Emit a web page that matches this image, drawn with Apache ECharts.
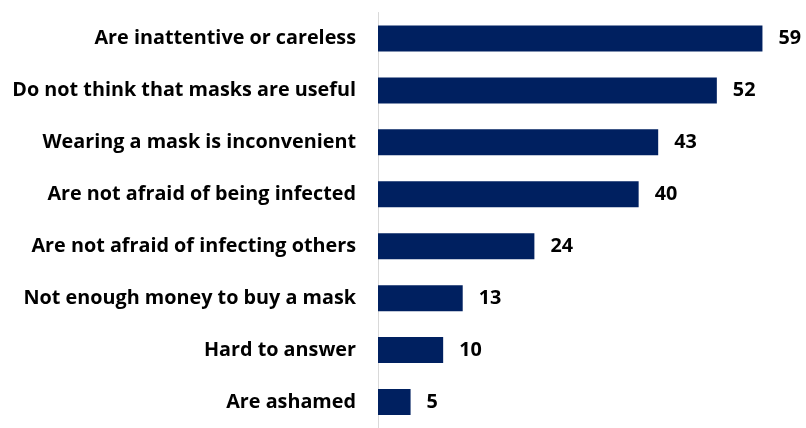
<!DOCTYPE html>
<html><head><meta charset="utf-8">
<script src="https://cdn.jsdelivr.net/npm/echarts@6/dist/echarts.min.js"></script>
<style>html,body{margin:0;padding:0;background:#fff}#c{width:806px;height:428px}</style>
</head><body><div id="c"></div>
<script>
var categories = ["Are inattentive or careless","Do not think that masks are useful","Wearing a mask is inconvenient","Are not afraid of being infected","Are not afraid of infecting others","Not enough money to buy a mask","Hard to answer","Are ashamed"];
var values = [59,52,43,40,24,13,10,5];
var chart = echarts.init(document.getElementById('c'));
var font = '"Open Sans", sans-serif';
chart.setOption({
  animation:false,
  grid:{left:378,top:12.5,width:404,height:423,containLabel:false},
  xAxis:{type:'value',min:0,max:62,show:false},
  yAxis:{type:'category',data:categories,inverse:true,
    axisLine:{show:true,lineStyle:{color:'#d9d9d9',width:1}},
    axisTick:{show:false},
    axisLabel:{margin:22,color:'#000',fontFamily:font,fontWeight:'bold',fontSize:19.8,padding:[4,0,0,0]}},
  series:[{type:'bar',data:values,barWidth:26,
    itemStyle:{color:'#002060'},
    label:{show:true,position:'right',distance:16,color:'#000',fontFamily:font,fontWeight:'bold',fontSize:19.8,padding:[4,0,0,0]}}]
});
</script></body></html>
